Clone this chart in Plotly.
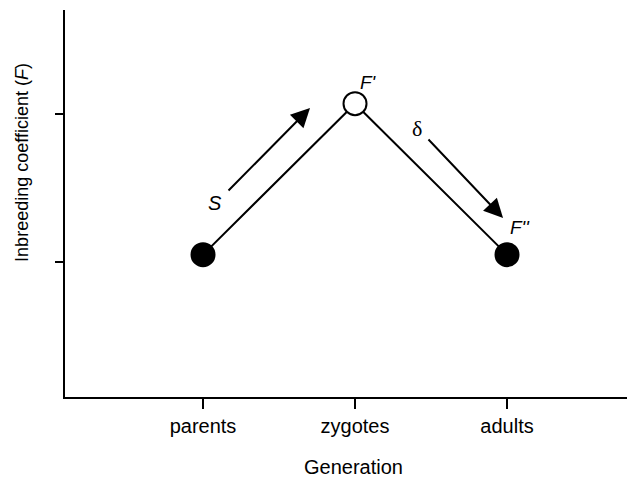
import plotly.graph_objects as go

# Data
stages = ["parents", "zygotes", "adults"]
stage_pos = [1, 2, 3]
F_values = [1.05, 2.07, 1.05]
marker_fill = ["black", "white", "black"]
y_ticks = [1, 2]

FONT = "Liberation Sans, Arial, Helvetica, sans-serif"

fig = go.Figure()
fig.add_trace(go.Scatter(
    x=stage_pos, y=F_values, mode="lines+markers",
    line=dict(color="black", width=2),
    marker=dict(size=23, color=marker_fill, line=dict(color="black", width=2)),
    showlegend=False, hoverinfo="skip",
))

# arrows (in data coordinates)
arrows = [
    dict(tail=(1.158, 1.473), tip=(1.704, 2.041)),
    dict(tail=(2.474, 1.838), tip=(2.974, 1.297)),
]
for a in arrows:
    fig.add_annotation(
        x=a["tip"][0], y=a["tip"][1], ax=a["tail"][0], ay=a["tail"][1],
        xref="x", yref="y", axref="x", ayref="y",
        showarrow=True, arrowhead=2, arrowsize=1.9, arrowwidth=2,
        arrowcolor="black", text="",
    )

labels = [
    ("<i>S</i>", 1.079, 1.40, FONT, 20),
    ("δ", 2.408, 1.905, "Liberation Serif, Times New Roman, serif", 22),
    ("<i>F'</i>", 2.086, 2.216, FONT, 19),
    ("<i>F''</i>", 3.086, 1.236, FONT, 19),
]
for t, x, y, f, s in labels:
    fig.add_annotation(x=x, y=y, xref="x", yref="y", text=t, showarrow=False,
                       font=dict(family=f, size=s, color="black"))

fig.add_annotation(x=-0.0754, y=0.605, xref="paper", yref="paper",
                   xanchor="center", yanchor="middle",
                   text="Inbreeding coefficient (<i>F</i>)", textangle=-90,
                   showarrow=False, font=dict(family=FONT, size=18, color="black"))
fig.add_annotation(x=0.507, y=-0.181, xref="paper", yref="paper",
                   xanchor="center", yanchor="middle",
                   text="Generation", showarrow=False,
                   font=dict(family=FONT, size=20, color="black"))

fig.update_xaxes(
    range=[0.092, 3.842], tickvals=stage_pos, ticktext=stages,
    showline=True, linecolor="black", linewidth=2,
    ticks="outside", ticklen=10, tickwidth=2, tickcolor="black",
    showgrid=False, zeroline=False,
    tickfont=dict(family=FONT, size=20, color="black"),
)
fig.update_yaxes(
    range=[0.088, 2.703], tickvals=y_ticks, showticklabels=False,
    showline=True, linecolor="black", linewidth=2,
    ticks="outside", ticklen=8, tickwidth=2, tickcolor="black",
    showgrid=False, zeroline=False,
)
fig.update_layout(
    width=627, height=469,
    margin=dict(l=57, r=0, t=2, b=80),
    plot_bgcolor="white", paper_bgcolor="white",
    font=dict(family=FONT, color="black"),
)
fig.write_html("out.html")
